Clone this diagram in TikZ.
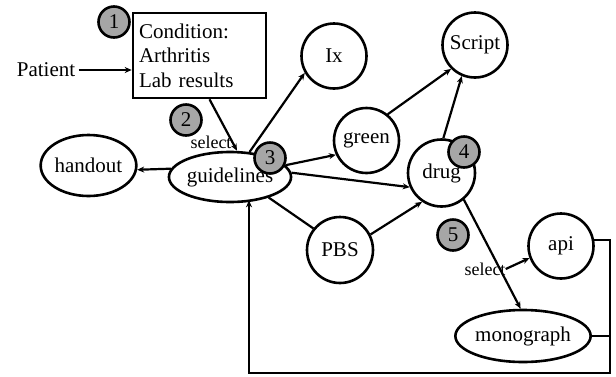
\documentclass[tikz,border=0pt]{standalone}
\usepackage{fontspec}
\setmainfont{Liberation Serif}
\usepackage{tikz}
\usetikzlibrary{positioning,arrows.meta,shapes.geometric}
\definecolor{badgegray}{HTML}{A6A6A6}
\tikzset{bubble/.style={circle, draw, line width=2.6pt, minimum size=65pt, inner sep=0pt}}

\begin{document}
\begin{tikzpicture}[x=1pt, y=-1pt, font=\fontsize{21}{24.5}\selectfont,
      oval/.style={ellipse, draw, line width=2.6pt, inner sep=0pt},
      marker/.style={circle, draw, fill=badgegray, line width=2.6pt, minimum size=31pt, inner sep=0pt},
      lbl/.style={font=\fontsize{18}{20}\selectfont, inner sep=0pt},
      arr/.style={line width=2.2pt, -{Stealth[length=7pt,width=6pt]}},
      wire/.style={line width=2.2pt}]
    \useasboundingbox (0,0) rectangle (616,376);
    \node (patient) at (46,70) {Patient};
    \node[draw, line width=2.6pt, minimum width=133pt, minimum height=85pt, text width=121pt,
          align=left, inner sep=6pt] (cond) at (199.5,55.5) {Condition:\\Arthritis\\Lab results};
    \node[oval, minimum width=110pt, minimum height=50pt] (guide) at (230,177) {guidelines};
    \node[oval, minimum width=79pt, minimum height=61pt] (handout) at (88.5,165.5) {handout};
    \node[bubble] (ix) at (334,56) {Ix};
    \node[bubble] (script) at (475,45) {Script};
    \node[bubble] (green) at (366.5,140.5) {green};
    \node[bubble, minimum size=67pt] (drug) at (441.5,173) {drug};
    \node[bubble, minimum size=66pt] (pbs) at (340,250) {PBS};
    \node[bubble] (api) at (561,246) {api};
    \node[oval, minimum width=129pt, minimum height=52pt] (mono) at (523,336) {monograph};
    \node[marker] (m1) at (114,22) {1};
    \node[marker] (m2) at (186,120) {2};
    \node[marker] (m3) at (270,158) {3};
    \node[marker] (m4) at (464,152) {4};
    \node[marker] (m5) at (453,235) {5};
    \node[lbl] (sel1) at (211,142) {select};
    \node[lbl] (sel2) at (485,269) {select};
    \coordinate (rt) at (610,373);
    \coordinate (lt) at (249,373);

    \draw[arr] (patient.east) -- (patient.east -| cond.west);
    \draw[arr] ([xshift=10pt]cond.south) -- ([xshift=7pt]guide.north);
    \draw[arr] (guide.172) -- (handout.-5);
    \draw[arr] (guide.52) -- (ix.210);
    \draw[arr] (guide.12) -- (green.205);
    \draw[arr] (guide.4) -- (drug.204);
    \draw[wire] (guide.-28) -- (pbs.141);
    \draw[arr] (pbs.27) -- (drug.236);
    \draw[arr] (green.51) -- (script.225);
    \draw[arr] (drug.87) -- (script.247);
    \draw[arr] (drug.-50) -- (mono.95);
    \draw[arr] (sel2.east) -- (api.201);
    \draw[wire] (mono.east) -- (mono.east -| rt);
    \draw[arr] (api.10) -| (rt) -- (lt) -- ([yshift=3pt]lt |- guide.south);
  \end{tikzpicture}
\end{document}
